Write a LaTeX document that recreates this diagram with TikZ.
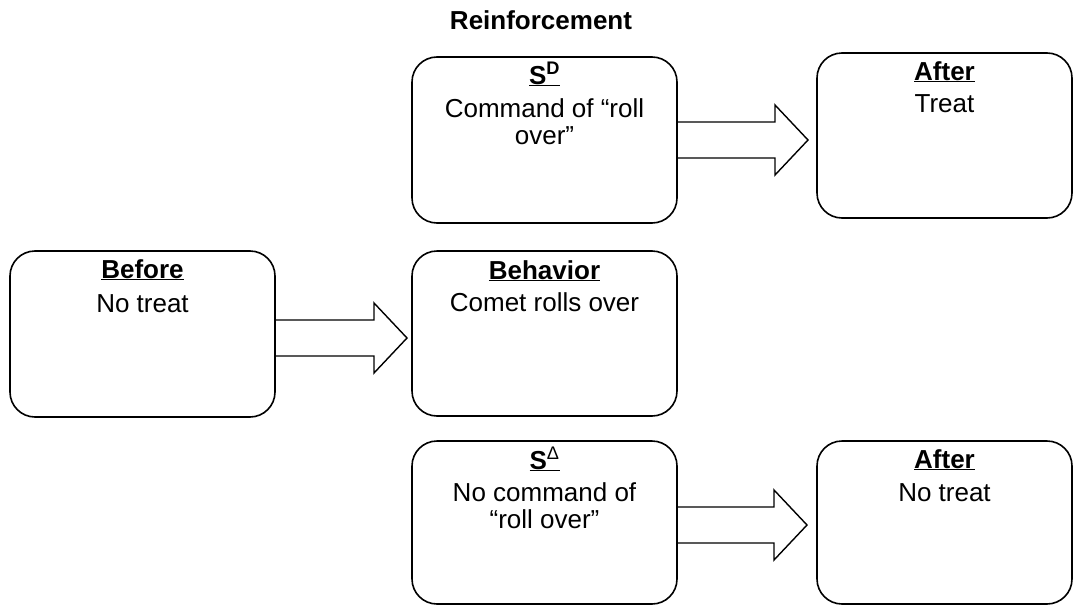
\documentclass[tikz,border=0pt]{standalone}
\usepackage{fontspec}
\setmainfont{Liberation Sans}
\usetikzlibrary{calc}
\newcommand\fatarrow[4]{% #1 source, #2 target, #3 gap before target, #4 y offset
  \draw[fatarr] ($(#1.east)+(0,#4-18)$) -- ($(#1.east -| #2.west)+(-#3-33,#4-18)$)
    -- ($(#1.east -| #2.west)+(-#3-33,#4-35)$) -- ($(#1.east -| #2.west)+(-#3,#4)$)
    -- ($(#1.east -| #2.west)+(-#3-33,#4+35)$) -- ($(#1.east -| #2.west)+(-#3-33,#4+18)$)
    -- ($(#1.east)+(0,#4+18)$);}
\begin{document}
\begin{tikzpicture}[x=1pt,y=-1pt,
  box/.style={draw, line width=1.6pt, rounded corners=25pt, inner sep=0pt, outer sep=0pt},
  txt/.style={anchor=base, inner sep=0pt, font=\fontsize{26}{29}\selectfont},
  hdr/.style={anchor=base, inner sep=0pt, font=\fontsize{26}{29}\selectfont\bfseries},
  fatarr/.style={draw, line width=1.4pt, line join=miter}]
\useasboundingbox (0,0) rectangle (1073,605);

\node[hdr] (title) at (541,29) {Reinforcement};

\node[box, minimum width=265pt, minimum height=166pt] (sd) at (544.5,140) {};
\node[box, minimum width=255pt, minimum height=165pt] (aft1) at (944.5,135.5) {};
\node[box, minimum width=265pt, minimum height=166pt] (before) at (142.5,334) {};
\node[box, minimum width=265pt, minimum height=165pt] (beh) at (544.5,333.5) {};
\node[box, minimum width=265pt, minimum height=163pt] (sdelta) at (544.5,522.5) {};
\node[box, minimum width=255pt, minimum height=163pt] (aft2) at (944.5,522.5) {};

\node[hdr] (sdh) at ($(sd.north)+(0,27)$) {\underline{S\textsuperscript{D}}};
\node[txt] (sdt1) at ($(sd.north)+(0,60)$) {Command of “roll};
\node[txt] (sdt2) at ($(sd.north)+(0,87)$) {over”};

\node[hdr] (a1h) at ($(aft1.north)+(0,27)$) {\underline{After}};
\node[txt] (a1t) at ($(aft1.north)+(0,59)$) {Treat};

\node[hdr] (bh) at ($(before.north)+(0,27)$) {\underline{Before}};
\node[txt] (bt) at ($(before.north)+(0,61)$) {No treat};

\node[hdr] (behh) at ($(beh.north)+(0,28)$) {\underline{Behavior}};
\node[txt] (beht) at ($(beh.north)+(0,60)$) {Comet rolls over};

\node[hdr] (sdeh) at ($(sdelta.north)+(0,28)$) {\underline{S\textsuperscript{\mdseries Δ}}};
\node[txt] (sdet1) at ($(sdelta.north)+(0,60)$) {No command of};
\node[txt] (sdet2) at ($(sdelta.north)+(0,87)$) {“roll over”};

\node[hdr] (a2h) at ($(aft2.north)+(0,27)$) {\underline{After}};
\node[txt] (a2t) at ($(aft2.north)+(0,60)$) {No treat};

\fatarrow{sd}{aft1}{9}{0}
\fatarrow{before}{beh}{5}{4}
\fatarrow{sdelta}{aft2}{10}{2.5}
\end{tikzpicture}
\end{document}
